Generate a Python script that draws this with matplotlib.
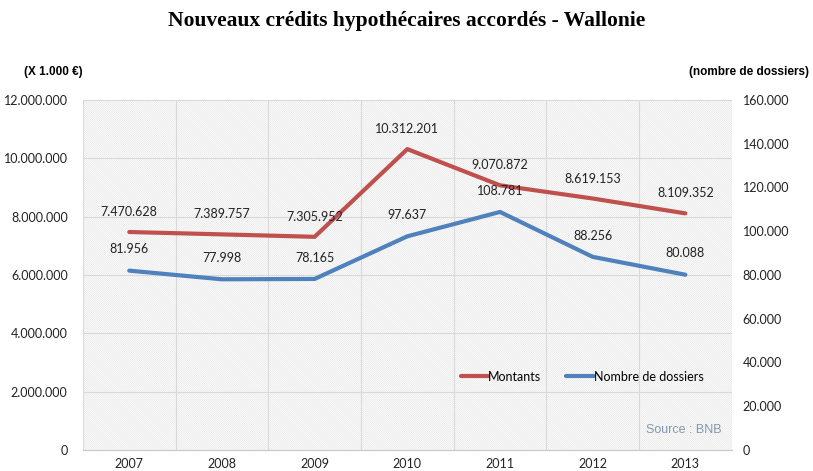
import numpy as np
import matplotlib.pyplot as plt
from matplotlib.patches import Rectangle
from matplotlib.ticker import FuncFormatter, MultipleLocator

plt.rcParams['font.family'] = ['Lato', 'DejaVu Sans']
plt.rcParams['hatch.color'] = '#dcdcdc'
plt.rcParams['hatch.linewidth'] = 0.35

# donnees
annees = ['2007', '2008', '2009', '2010', '2011', '2012', '2013']
montants = [7470628, 7389757, 7305952, 10312201, 9070872, 8619153, 8109352]
dossiers = [81956, 77998, 78165, 97637, 108781, 88256, 80088]

rouge = '#c0504d'
bleu = '#4f81bd'

def fmt_point(v, pos=None):
    return f"{int(v):,}".replace(',', '.')

fig = plt.figure(figsize=(8.13, 4.71), dpi=100)
ax = fig.add_axes([0.102, 0.0446, 0.798, 0.7434])
ax2 = ax.twinx()

x = np.arange(len(annees))

# fond hachure
ax.add_patch(Rectangle((0, 0), 1, 1, transform=ax.transAxes, facecolor='white',
                       edgecolor='#dcdcdc', hatch='\\' * 16, linewidth=0, zorder=0))

ax.set_xlim(-0.5, 6.5)
ax.set_ylim(0, 12000000)
ax2.set_ylim(0, 160000)
ax.yaxis.set_major_locator(MultipleLocator(2000000))
ax2.yaxis.set_major_locator(MultipleLocator(20000))
ax.yaxis.set_major_formatter(FuncFormatter(fmt_point))
ax2.yaxis.set_major_formatter(FuncFormatter(fmt_point))

ax.set_xticks(x)
ax.set_xticklabels(annees)
ax.set_xticks(np.arange(-0.5, 7, 1), minor=True)
ax.grid(True, which='minor', axis='x', color='#d9d9d9', linewidth=0.8)
ax.grid(True, which='major', axis='y', color='#d9d9d9', linewidth=0.8)
ax.set_axisbelow(True)

for a in (ax, ax2):
    for s in a.spines.values():
        s.set_visible(False)
    a.tick_params(which='both', length=0, labelsize=9, colors='#222222')
ax.spines['bottom'].set_visible(True)
ax.spines['bottom'].set_color('#c8c8c8')
ax.tick_params(axis='y', pad=11)
ax2.tick_params(axis='y', pad=8)
ax.tick_params(axis='x', pad=6)

l1, = ax.plot(x, montants, color=rouge, linewidth=3, solid_capstyle='round', zorder=3)
l2, = ax2.plot(x, dossiers, color=bleu, linewidth=3, solid_capstyle='round', zorder=3)

for xi, v in zip(x, montants):
    ax.annotate(fmt_point(v), (xi, v), xytext=(0, 10), textcoords='offset points',
                ha='center', va='bottom', fontsize=9, color='#222222')
for xi, v in zip(x, dossiers):
    ax2.annotate(fmt_point(v), (xi, v), xytext=(0, 11), textcoords='offset points',
                 ha='center', va='bottom', fontsize=9, color='#222222')

ax2.legend([l1, l2], ['Montants', 'Nombre de dossiers'], loc='lower left',
           bbox_to_anchor=(0.565, 0.16), ncol=2, frameon=False, fontsize=9,
           handlelength=2.2, handletextpad=0.0, columnspacing=2.0)

ax2.text(0.985, 0.04, 'Source : BNB', transform=ax2.transAxes, ha='right', va='bottom',
         fontsize=9, color='#8497b0', family=['Liberation Sans', 'DejaVu Sans'])

fig.text(0.5, 0.955, 'Nouveaux crédits hypothécaires accordés - Wallonie', ha='center',
         va='center', fontsize=15.5, fontweight='bold', family=['Liberation Serif', 'DejaVu Serif'])
fig.text(0.03, 0.847, '(X 1.000 €)', ha='left', va='center', fontsize=8.5, fontweight='bold',
         family=['Liberation Sans', 'DejaVu Sans'])
fig.text(0.995, 0.847, '(nombre de dossiers)', ha='right', va='center', fontsize=8.5,
         fontweight='bold', family=['Liberation Sans', 'DejaVu Sans'])

fig.savefig('out.png', dpi=100)
